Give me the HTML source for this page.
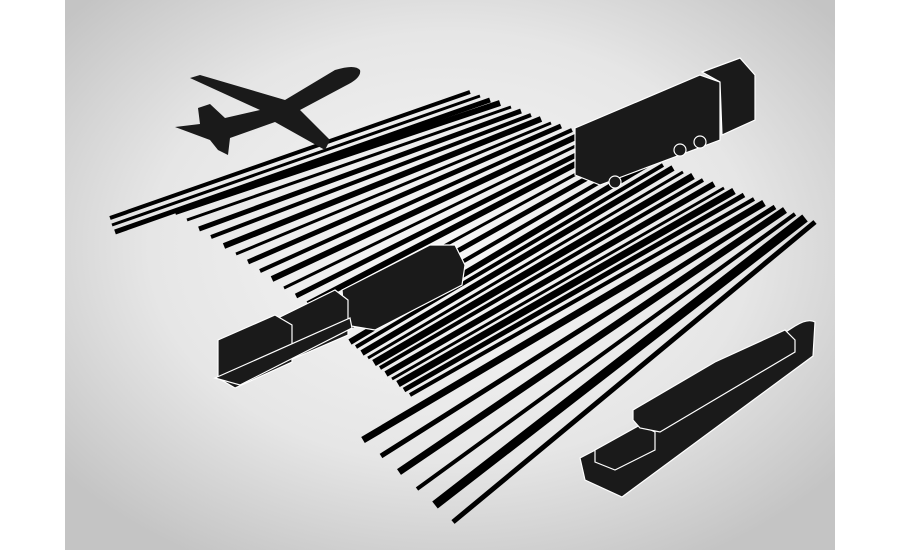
<!DOCTYPE html>
<html><head><meta charset="utf-8"><style>
html,body{margin:0;padding:0;background:#fff;}
svg{display:block}
</style></head><body>
<svg width="900" height="550" viewBox="0 0 900 550" xmlns="http://www.w3.org/2000/svg">
<defs>
<radialGradient id="bg" cx="50%" cy="45%" r="65%">
<stop offset="0" stop-color="#f6f6f6"/><stop offset="0.6" stop-color="#e6e6e6"/><stop offset="1" stop-color="#c4c4c4"/>
</radialGradient>
</defs>
<rect x="0" y="0" width="900" height="550" fill="#fff"/>
<rect x="65" y="0" width="770" height="550" fill="url(#bg)"/>
<g stroke="#000" stroke-linecap="butt" fill="none">
<line x1="110" y1="218" x2="470" y2="92" stroke-width="4"/>
<line x1="112" y1="225" x2="480" y2="96" stroke-width="3"/>
<line x1="115" y1="232" x2="490" y2="100" stroke-width="5"/>
<line x1="175" y1="212" x2="500" y2="103" stroke-width="6"/>
<line x1="187" y1="220" x2="511" y2="107" stroke-width="3"/>
<line x1="199" y1="229" x2="521" y2="111" stroke-width="5"/>
<line x1="211" y1="237" x2="531" y2="115" stroke-width="4"/>
<line x1="224" y1="246" x2="541" y2="119" stroke-width="6"/>
<line x1="236" y1="254" x2="551" y2="123" stroke-width="3"/>
<line x1="248" y1="262" x2="561" y2="126" stroke-width="5"/>
<line x1="260" y1="271" x2="572" y2="130" stroke-width="4"/>
<line x1="272" y1="279" x2="582" y2="134" stroke-width="6"/>
<line x1="284" y1="288" x2="592" y2="138" stroke-width="3"/>
<line x1="296" y1="296" x2="602" y2="142" stroke-width="5"/>
<line x1="308" y1="304" x2="612" y2="145" stroke-width="6"/>
<line x1="321" y1="313" x2="622" y2="149" stroke-width="3"/>
<line x1="333" y1="321" x2="632" y2="153" stroke-width="5"/>
<line x1="345" y1="330" x2="643" y2="157" stroke-width="4"/>
<line x1="350" y1="342" x2="653" y2="161" stroke-width="6"/>
<line x1="356" y1="347" x2="663" y2="165" stroke-width="4"/>
<line x1="362" y1="353" x2="673" y2="168" stroke-width="6"/>
<line x1="368" y1="358" x2="683" y2="172" stroke-width="3"/>
<line x1="374" y1="363" x2="693" y2="176" stroke-width="7"/>
<line x1="380" y1="368" x2="703" y2="180" stroke-width="4"/>
<line x1="386" y1="374" x2="714" y2="184" stroke-width="6"/>
<line x1="392" y1="379" x2="724" y2="188" stroke-width="3"/>
<line x1="398" y1="384" x2="734" y2="191" stroke-width="7"/>
<line x1="404" y1="390" x2="744" y2="195" stroke-width="5"/>
<line x1="410" y1="395" x2="754" y2="199" stroke-width="4"/>
<line x1="363" y1="440" x2="764" y2="203" stroke-width="7"/>
<line x1="381" y1="456" x2="775" y2="207" stroke-width="5"/>
<line x1="399" y1="472" x2="785" y2="210" stroke-width="7"/>
<line x1="417" y1="489" x2="795" y2="214" stroke-width="4"/>
<line x1="435" y1="505" x2="805" y2="218" stroke-width="9"/>
<line x1="453" y1="522" x2="815" y2="222" stroke-width="5"/>
</g>
<!-- plane -->
<g fill="#1a1a1a">
<path d="M190,78 L200,75 L285,100 L335,70 Q355,64 360,70 Q362,78 345,86 L300,110 L330,140 L325,150 L275,122 L230,138 L228,155 L218,150 L210,140 L175,127 L200,124 L198,108 L210,104 L225,118 L260,110 Z"/>
</g>
<!-- truck -->
<g fill="#1a1a1a" stroke="#fff" stroke-width="1.2">
<path d="M575,128 L700,75 L720,82 L720,140 L600,185 L575,175 Z"/>
<path d="M702,72 L740,58 L755,75 L755,120 L722,135 L720,82 Z"/>
<circle cx="615" cy="182" r="6"/><circle cx="680" cy="150" r="6"/><circle cx="700" cy="142" r="6"/>
</g>
<!-- train -->
<g fill="#1a1a1a" stroke="#fff" stroke-width="1.2">
<path d="M342,290 L430,245 L455,245 L465,265 L462,285 L375,330 L345,325 Z"/>
<path d="M278,318 L335,290 L348,300 L348,335 L290,360 L278,350 Z"/>
<path d="M218,340 L275,315 L292,325 L292,362 L235,388 L218,378 Z"/>
<path d="M215,378 L350,318 L352,328 L240,385 Z"/>
</g>
<!-- ship -->
<g fill="#1a1a1a" stroke="#fff" stroke-width="1.2">
<path d="M580,458 L630,432 L795,326 Q808,318 815,322 L813,356 L622,497 L585,480 Z"/>
<path d="M595,450 L640,425 L655,432 L655,450 L615,470 L595,462 Z"/>
<path d="M633,410 L715,362 L785,330 L795,340 L795,352 L660,432 L640,428 L633,420 Z"/>
</g>
</svg>
</body></html>
